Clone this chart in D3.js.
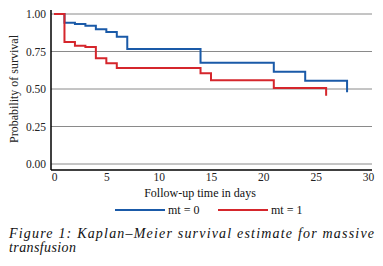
<!DOCTYPE html>
<html>
<head>
<meta charset="utf-8">
<script src="https://cdn.jsdelivr.net/npm/d3@7"></script>
<style>
  body { margin: 0; background: #fff; }
  text { font-family: "Liberation Serif", "Times New Roman", serif; }
</style>
</head>
<body>
<div id="chart-area"></div>
<script>
const W = 383, H = 266

// Kaplan-Meier estimates
const times0 = [0, 1, 2, 3, 4, 5, 6, 7, 14, 21, 24, 28]
const surv0 = [1, 0.942, 0.933, 0.922, 0.898, 0.88, 0.849, 0.767, 0.675, 0.615, 0.555, 0.478]
const times1 = [0, 1, 2, 3, 4, 5, 6, 14, 15, 21, 26]
const surv1 = [1, 0.813, 0.789, 0.78, 0.705, 0.671, 0.64, 0.605, 0.558, 0.507, 0.455]
const xTicks = [0, 5, 10, 15, 20, 25, 30]
const yTicks = [0, 0.25, 0.5, 0.75, 1]
const groups = ["mt = 0", "mt = 1"]
const colors = ["#1a5aa8", "#d5262c"]

const svg = d3.select("#chart-area").append("svg")
  .attr("width", W)
  .attr("height", H)

const x = d3.scaleLinear().domain([0, 30]).range([54, 368])
const y = d3.scaleLinear().domain([0, 1]).range([164, 14])

const xMin = x.invert(51), xMax = x.invert(372)
const yMin = y.invert(170), yMax = y.invert(10)

// gridlines
svg.selectAll(".grid")
  .data(yTicks)
  .join("line")
  .attr("x1", x(xMin)).attr("x2", x(xMax))
  .attr("y1", d => y(d)).attr("y2", d => y(d))
  .attr("stroke", "#8a8a8a")
  .attr("stroke-width", 1)

// axes
const yAxis = svg.append("g")
  .attr("transform", `translate(${x(xMin)},0)`)
  .call(d3.axisLeft(y).tickValues(yTicks).tickFormat(d3.format(".2f")).tickSize(0).tickPadding(5))
yAxis.select(".domain").attr("d", `M0,${y(yMin)}V${y(yMax)}`).attr("stroke", "#000").attr("stroke-width", 1.5)
yAxis.selectAll("text").style("font-size", "11.5px").attr("fill", "#222")
  .style("font-family", "Liberation Serif")

const xAxis = svg.append("g")
  .attr("transform", `translate(0,${y(yMin)})`)
  .call(d3.axisBottom(x).tickValues(xTicks).tickSize(0).tickPadding(3))
xAxis.select(".domain").attr("d", `M${x(xMin)},0H${x(xMax)}`).attr("stroke", "#000").attr("stroke-width", 1.5)
xAxis.selectAll("text").style("font-size", "11.5px").attr("fill", "#222")
  .style("font-family", "Liberation Serif")

// axis titles
svg.append("text")
  .attr("transform", `translate(18,${(y(0) + y(1)) / 2}) rotate(-90)`)
  .attr("text-anchor", "middle")
  .style("font-size", "12px")
  .attr("fill", "#222")
  .text("Probability of survival")

svg.append("text")
  .attr("x", 200).attr("y", 197)
  .attr("text-anchor", "middle")
  .style("font-size", "12px")
  .attr("fill", "#111")
  .text("Follow-up time in days")

// survival curves
const line = d3.line()
  .x(d => x(d[0]))
  .y(d => y(d[1]))
  .curve(d3.curveStepAfter)

const series = [d3.zip(times0, surv0), d3.zip(times1, surv1)]

svg.selectAll(".curve")
  .data(series)
  .join("path")
  .attr("d", line)
  .attr("fill", "none")
  .attr("stroke", (d, i) => colors[i])
  .attr("stroke-width", 2)

// legend
const legendX = [115, 218]
const lg = svg.selectAll(".legend")
  .data(groups)
  .join("g")
  .attr("transform", (d, i) => `translate(${legendX[i]},210)`)
lg.append("line")
  .attr("x1", 0).attr("x2", 50)
  .attr("stroke", (d, i) => colors[i])
  .attr("stroke-width", 2)
lg.append("text")
  .attr("x", 53).attr("y", 4)
  .style("font-size", "12px")
  .attr("fill", "#111")
  .text(d => d)

// caption
svg.append("text")
  .attr("x", 9).attr("y", 238)
  .attr("textLength", 365)
  .attr("lengthAdjust", "spacing")
  .style("font-size", "14px")
  .style("font-style", "italic")
  .attr("fill", "#111")
  .text("Figure 1: Kaplan–Meier survival estimate for massive")
svg.append("text")
  .attr("x", 9).attr("y", 252)
  .style("font-size", "14px")
  .style("font-style", "italic")
  .style("letter-spacing", "0.4px")
  .attr("fill", "#111")
  .text("transfusion")
</script>
</body>
</html>
